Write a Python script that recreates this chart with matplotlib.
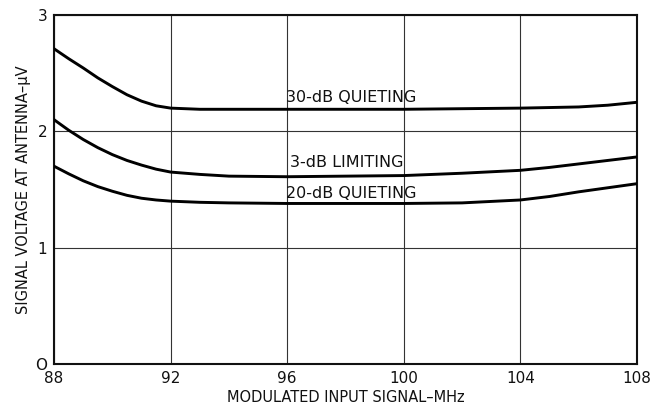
import matplotlib
matplotlib.use("Agg")
import matplotlib.pyplot as plt

# frequency (MHz) and signal voltage at antenna (uV)
freq_mhz = [88, 88.5, 89, 89.5, 90, 90.5, 91, 91.5, 92, 93, 94, 96, 98, 100, 102, 104, 105, 106, 107, 108]
quieting_30db = [2.71, 2.625, 2.545, 2.46, 2.385, 2.315, 2.26, 2.22, 2.20, 2.19, 2.19, 2.19, 2.19, 2.19, 2.195,
                 2.20, 2.205, 2.21, 2.225, 2.25]
limiting_3db = [2.10, 2.01, 1.93, 1.86, 1.80, 1.75, 1.71, 1.675, 1.65, 1.63, 1.615, 1.61, 1.615, 1.62, 1.64,
                1.665, 1.69, 1.72, 1.75, 1.78]
quieting_20db = [1.70, 1.635, 1.575, 1.525, 1.485, 1.45, 1.425, 1.41, 1.40, 1.39, 1.385, 1.38, 1.38, 1.38, 1.385,
                 1.41, 1.44, 1.48, 1.515, 1.55]

x_ticks = [88, 92, 96, 100, 104, 108]
y_ticks = [0, 1, 2, 3]
y_tick_labels = ["O", "1", "2", "3"]

curve_labels = ["30-dB QUIETING", "3-dB LIMITING", "20-dB QUIETING"]
label_x = [98.2, 98.05, 98.2]
label_y = [2.29, 1.73, 1.47]

fig = plt.figure(figsize=(6.6, 4.08), dpi=100)
ax = fig.add_axes([0.082, 0.108, 0.883, 0.855])

for series in (quieting_30db, limiting_3db, quieting_20db):
    ax.plot(freq_mhz, series, color="black", lw=2.1, solid_joinstyle="round", zorder=3)

for text, tx, ty in zip(curve_labels, label_x, label_y):
    ax.text(tx, ty, text, ha="center", va="center", fontsize=11.5, color="#111111")

ax.set_xlim(88, 108)
ax.set_ylim(0, 3)
ax.set_xticks(x_ticks)
ax.set_yticks(y_ticks)
ax.set_yticklabels(y_tick_labels)
ax.tick_params(length=0, labelsize=11, pad=5, colors="#111111")
ax.grid(True, color="#333333", lw=0.8)
ax.set_axisbelow(True)
for sp in ax.spines.values():
    sp.set_linewidth(1.5)
    sp.set_color("#111111")

ax.set_xlabel("MODULATED INPUT SIGNAL\u2013MHz", fontsize=10.5, labelpad=3, color="#111111")
ax.set_ylabel("SIGNAL VOLTAGE AT ANTENNA\u2013\u03bcV", fontsize=10.5, labelpad=3, color="#111111")

fig.savefig("out.png", dpi=100)
